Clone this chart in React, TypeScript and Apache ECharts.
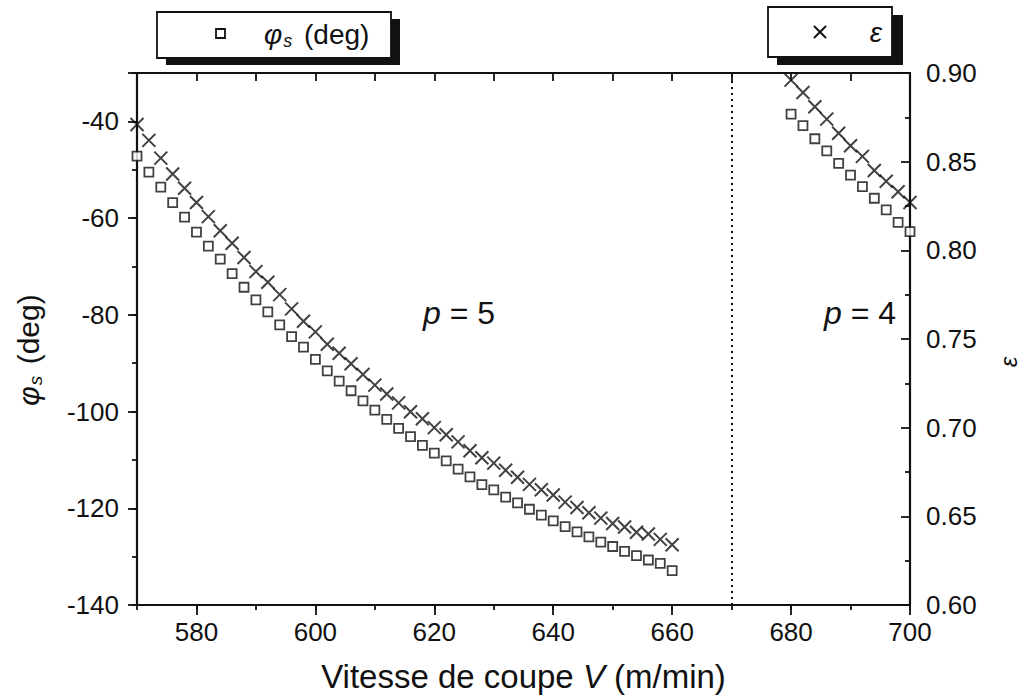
import React, { useEffect, useRef } from "react";
import * as echarts from "echarts";

// ---- data ----
const V_P5 = [570, 572, 574, 576, 578, 580, 582, 584, 586, 588, 590, 592, 594, 596, 598, 600, 602, 604, 606, 608, 610, 612, 614, 616, 618, 620, 622, 624, 626, 628, 630, 632, 634, 636, 638, 640, 642, 644, 646, 648, 650, 652, 654, 656, 658, 660];
const PHI_P5 = [-47.2, -50.5, -53.6, -56.8, -59.8, -62.9, -65.8, -68.5, -71.5, -74.3, -76.9, -79.4, -82.1, -84.5, -86.7, -89.2, -91.6, -93.7, -95.7, -97.8, -99.7, -101.6, -103.5, -105.2, -107.0, -108.6, -110.2, -111.9, -113.5, -115.1, -116.2, -117.7, -118.9, -120.2, -121.4, -122.6, -123.8, -124.9, -125.9, -127.0, -127.9, -128.9, -129.8, -130.7, -131.4, -132.9];
const EPS_P5 = [0.871, 0.862, 0.852, 0.843, 0.835, 0.827, 0.819, 0.811, 0.804, 0.796, 0.788, 0.782, 0.775, 0.767, 0.760, 0.754, 0.747, 0.742, 0.736, 0.730, 0.724, 0.719, 0.714, 0.709, 0.705, 0.700, 0.696, 0.692, 0.687, 0.683, 0.680, 0.676, 0.672, 0.668, 0.665, 0.662, 0.658, 0.655, 0.652, 0.649, 0.646, 0.644, 0.641, 0.640, 0.637, 0.634];
const V_P4 = [680, 682, 684, 686, 688, 690, 692, 694, 696, 698, 700];
const PHI_P4 = [-38.5, -40.9, -43.6, -46.1, -48.7, -51.1, -53.5, -55.9, -58.3, -60.9, -62.8];
const EPS_P4 = [0.896, 0.889, 0.881, 0.874, 0.866, 0.859, 0.853, 0.845, 0.839, 0.833, 0.827];
const X_MAJOR_TICKS = [580, 600, 620, 640, 660, 680, 700];
const V_BOUNDARY = 670;
const REGION_LABELS = ["5", "4"];

const FONT = '"Liberation Sans", Arial, Helvetica, sans-serif';
const INK = "#111111";
const CROSS = "path://M0,0L10,10M10,0L0,10";

function buildOption() {
  const lineStyle = { color: INK, width: 2.2 };
  const tickStyle = { color: INK, width: 1.8 };
  const labelStyle = { fontSize: 26, color: INK, fontFamily: FONT };
  const hidden = { show: false };
  const square = {
    type: "scatter",
    symbol: "rect",
    symbolSize: 9,
    xAxisIndex: 0,
    yAxisIndex: 0,
    itemStyle: { color: "#fff", borderColor: INK, borderWidth: 1.8 },
  };
  const cross = {
    type: "scatter",
    symbol: CROSS,
    symbolSize: 13,
    xAxisIndex: 0,
    yAxisIndex: 1,
    itemStyle: { color: "rgba(0,0,0,0)", borderColor: INK, borderWidth: 2 },
  };
  return {
    animation: false,
    backgroundColor: "#fff",
    grid: { left: 137, right: 115, top: 73, bottom: 95, containLabel: false, outerBoundsMode: "none" },
    xAxis: [
      {
        type: "value", position: "bottom", min: 570, max: 700, interval: 10,
        axisLine: { show: true, onZero: false, lineStyle },
        axisTick: { show: true, length: 5, lineStyle: tickStyle },
        axisLabel: { ...labelStyle, margin: 14, formatter: (v: number) => (v % 20 === 0 ? String(v) : "") },
        splitLine: hidden,
        name: "Vitesse de coupe {i|V} (m/min)",
        nameLocation: "middle",
        nameGap: 55,
        nameTextStyle: {
          fontSize: 33, color: INK, fontFamily: FONT,
          rich: { i: { fontSize: 33, fontStyle: "italic", color: INK, fontFamily: FONT } },
        },
      },
      {
        type: "value", position: "bottom", min: 570, max: 700, interval: 10,
        axisLine: { show: false, onZero: false },
        axisTick: { show: true, length: 10, lineStyle: tickStyle, customValues: X_MAJOR_TICKS },
        axisLabel: hidden, splitLine: hidden,
      },
      {
        type: "value", position: "top", min: 570, max: 700, interval: 10,
        axisLine: { show: true, onZero: false, lineStyle },
        axisTick: { show: true, inside: true, length: 8, lineStyle: tickStyle },
        axisLabel: hidden, splitLine: hidden,
      },
    ],
    yAxis: [
      {
        type: "value", position: "left", min: -140, max: -30, interval: 10,
        axisLine: { show: true, onZero: false, lineStyle },
        axisTick: { show: true, length: 5, lineStyle: tickStyle },
        axisLabel: { ...labelStyle, margin: 18, formatter: (v: number) => (v % 20 === 0 ? String(v) : "") },
        splitLine: hidden,
        name: "{i|φ}{s|s} (deg)",
        nameLocation: "middle",
        nameGap: 92,
        nameTextStyle: {
          fontSize: 30, color: INK, fontFamily: FONT, padding: [0, 22, 0, 0],
          rich: {
            i: { fontSize: 30, fontStyle: "italic", color: INK, fontFamily: FONT },
            s: { fontSize: 19, fontStyle: "italic", color: INK, fontFamily: FONT, padding: [14, 3, 0, 1] },
          },
        },
      },
      {
        type: "value", position: "right", min: 0.6, max: 0.9, interval: 0.05,
        axisLine: { show: true, onZero: false, lineStyle },
        axisTick: { show: true, inside: true, length: 9, lineStyle: tickStyle },
        minorTick: { show: true, splitNumber: 2, length: 5, lineStyle: tickStyle },
        axisLabel: { ...labelStyle, margin: 16, formatter: (v: number) => v.toFixed(2) },
        splitLine: hidden, minorSplitLine: hidden,
        name: "ε",
        nameLocation: "middle",
        nameGap: 86,
        nameTextStyle: { fontSize: 24, fontStyle: "italic", color: INK, fontFamily: FONT, padding: [0, 46, 0, 0] },
      },
      {
        type: "value", position: "left", min: -140, max: -30, interval: 20,
        axisLine: { show: false, onZero: false },
        axisTick: { show: true, length: 9, lineStyle: tickStyle },
        axisLabel: hidden, splitLine: hidden,
      },
    ],
    series: [
      { ...square, name: "phi-p5", data: V_P5.map((v, i) => [v, PHI_P5[i]]) },
      { ...square, name: "phi-p4", data: V_P4.map((v, i) => [v, PHI_P4[i]]) },
      {
        ...cross, name: "eps-p5", data: V_P5.map((v, i) => [v, EPS_P5[i]]),
        markLine: {
          silent: true, animation: false, symbol: ["none", "none"], label: hidden,
          lineStyle: { type: [2, 4], color: INK, width: 2 },
          data: [{ xAxis: V_BOUNDARY }],
        },
      },
      { ...cross, name: "eps-p4", data: V_P4.map((v, i) => [v, EPS_P4[i]]) },
    ],
    graphic: [
      // legend 1
      { type: "rect", shape: { x: 166, y: 19, width: 234, height: 46 }, style: { fill: INK } },
      { type: "rect", shape: { x: 157, y: 12, width: 234, height: 46 }, style: { fill: "#fff", stroke: INK, lineWidth: 1.8 } },
      { type: "rect", shape: { x: 216, y: 29, width: 9, height: 9 }, style: { fill: "#fff", stroke: INK, lineWidth: 1.8 } },
      {
        type: "text", x: 264, y: 34,
        style: {
          text: "{i|φ}{s|s} (deg)", align: "left", verticalAlign: "middle",
          fontSize: 28, fontFamily: FONT, fill: INK,
          rich: {
            i: { fontSize: 28, fontStyle: "italic", fontFamily: FONT, fill: INK },
            s: { fontSize: 18, fontStyle: "italic", fontFamily: FONT, fill: INK, padding: [14, 4, 0, 1] },
          },
        },
      },
      // legend 2
      { type: "rect", shape: { x: 777, y: 15, width: 126, height: 50 }, style: { fill: INK } },
      { type: "rect", shape: { x: 768, y: 7, width: 124, height: 50 }, style: { fill: "#fff", stroke: INK, lineWidth: 1.8 } },
      { type: "line", shape: { x1: 814, y1: 26, x2: 826, y2: 38 }, style: { stroke: INK, lineWidth: 2 } },
      { type: "line", shape: { x1: 814, y1: 38, x2: 826, y2: 26 }, style: { stroke: INK, lineWidth: 2 } },
      {
        type: "text", x: 876, y: 32,
        style: { text: "ε", align: "center", verticalAlign: "middle", fontSize: 28, fontStyle: "italic", fontFamily: FONT, fill: INK },
      },
      // region labels
      {
        type: "text", x: 459, y: 313,
        style: {
          text: "{i|p} = " + REGION_LABELS[0], align: "center", verticalAlign: "middle",
          fontSize: 32, fontFamily: FONT, fill: INK,
          rich: { i: { fontSize: 32, fontStyle: "italic", fontFamily: FONT, fill: INK } },
        },
      },
      {
        type: "text", x: 860, y: 313,
        style: {
          text: "{i|p} = " + REGION_LABELS[1], align: "center", verticalAlign: "middle",
          fontSize: 32, fontFamily: FONT, fill: INK,
          rich: { i: { fontSize: 32, fontStyle: "italic", fontFamily: FONT, fill: INK } },
        },
      },
    ],
  };
}

export default function App() {
  const ref = useRef<HTMLDivElement>(null);
  useEffect(() => {
    if (!ref.current) return;
    const chart = echarts.init(ref.current, null, { renderer: "svg" });
    chart.setOption(buildOption() as any);
    return () => chart.dispose();
  }, []);
  return (
    <div
      ref={ref}
      style={{ position: "absolute", left: 0, top: 0, width: 1025, height: 700, background: "#fff" }}
    />
  );
}
